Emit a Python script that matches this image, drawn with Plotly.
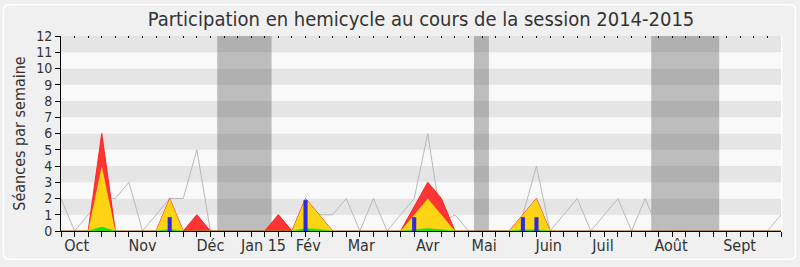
import plotly.graph_objects as go

# ---- data (weekly, session 2014-2015) ----
weeks = list(range(54))
median_seances = [2, 0, 1, 2, 2, 3, 0, 1, 2, 2, 5, 0, 0, 0, 0, 0, 1, 0, 2, 1,
                  1, 2, 0, 2, 0, 1, 2, 6, 0.5, 1, 0, 0, 0, 0, 1, 4, 0, 1, 2, 0,
                  1, 2, 0, 2, 0, 0, 0, 0, 0, 0, 0, 0, 0, 1]
presence = [0, 0, 0, 6, 0, 0, 0, 0, 2, 0, 1, 0, 0, 0, 0, 0, 1, 0, 2, 1,
            0, 0, 0, 0, 0, 0, 1.5, 3, 2, 0, 0, 0, 0, 0, 1, 2, 0, 0, 0, 0,
            0, 0, 0, 0, 0, 0, 0, 0, 0, 0, 0, 0, 0, 0]
participation = [0, 0, 0, 4, 0, 0, 0, 0, 2, 0, 0, 0, 0, 0, 0, 0, 0, 0, 2, 1,
                 0, 0, 0, 0, 0, 0, 1, 2, 1, 0, 0, 0, 0, 0, 1, 2, 0, 0, 0, 0,
                 0, 0, 0, 0, 0, 0, 0, 0, 0, 0, 0, 0, 0, 0]
interventions = [0, 0, 0, 0.25, 0, 0, 0, 0, 0.1, 0, 0, 0, 0, 0, 0, 0, 0, 0, 0.15, 0.1,
                 0, 0, 0, 0, 0, 0, 0.08, 0.15, 0.08, 0, 0, 0, 0, 0, 0.08, 0.08, 0, 0, 0, 0,
                 0, 0, 0, 0, 0, 0, 0, 0, 0, 0, 0, 0, 0, 0]
questions = [0, 0, 0, 0, 0, 0, 0, 0, 0.85, 0, 0, 0, 0, 0, 0, 0, 0, 0, 1.9, 0,
             0, 0, 0, 0, 0, 0, 0.85, 0, 0, 0, 0, 0, 0, 0, 0.85, 0.85, 0, 0, 0, 0,
             0, 0, 0, 0, 0, 0, 0, 0, 0, 0, 0, 0, 0, 0]
vacances_debut = [11.5, 30.4, 43.45]
vacances_fin = [15.5, 31.5, 48.45]
mois_labels = ["Oct", "Nov", "Déc", "Jan 15", "Fév", "Mar", "Avr", "Mai", "Juin", "Juil", "Août", "Sept"]
mois_pos = [1.15, 6.0, 11.0, 14.9, 18.2, 22.1, 27.0, 31.15, 35.9, 39.9, 44.9, 49.95]
y_max = 12

FONT = "DejaVu Sans Condensed, Liberation Sans Narrow, DejaVu Sans, sans-serif"

fig = go.Figure()
fig.add_trace(go.Scatter(x=weeks, y=median_seances, mode="lines",
                         line=dict(color="#b8b8b8", width=1), hoverinfo="skip"))
fig.add_trace(go.Scatter(x=weeks, y=presence, mode="lines", fill="tozeroy",
                         line=dict(color="#ff2020", width=1), fillcolor="#ff3535"))
fig.add_trace(go.Scatter(x=weeks, y=participation, mode="lines", fill="tozeroy",
                         line=dict(color="#ffd000", width=0), fillcolor="#ffd414"))
fig.add_trace(go.Scatter(x=weeks, y=interventions, mode="lines", fill="tozeroy",
                         line=dict(color="#22dd00", width=0.5), fillcolor="#22dd00"))
fig.add_trace(go.Bar(x=weeks, y=questions, width=0.3, marker=dict(color="#2b2bdc", line=dict(width=0)),
                     xaxis="x2", yaxis="y2"))

shapes = []
for k in range(y_max):
    shapes.append(dict(type="rect", xref="paper", yref="y", x0=0, x1=1, y0=k, y1=k + 1,
                       fillcolor="#e5e5e5" if k % 2 == 1 else "#f9f9f9",
                       line=dict(width=0), layer="below"))
for a, b in zip(vacances_debut, vacances_fin):
    shapes.append(dict(type="rect", xref="x", yref="paper", x0=a, x1=b, y0=0, y1=1,
                       fillcolor="rgba(78,78,78,0.35)", line=dict(width=0), layer="below"))

# outer rounded frame (container px -> paper units)
L, R, T, B = 61, 19, 36, 34
W, H = 800, 267
pw, ph = W - L - R, H - T - B
def px(x): return (x - L) / pw
def py(y): return (H - B - y) / ph
x0, x1, y0, y1, r = 3.5, 795.5, 4.5, 261.5, 6
path = (f"M {px(x0+r)} {py(y0)} L {px(x1-r)} {py(y0)} Q {px(x1)} {py(y0)} {px(x1)} {py(y0+r)} "
        f"L {px(x1)} {py(y1-r)} Q {px(x1)} {py(y1)} {px(x1-r)} {py(y1)} "
        f"L {px(x0+r)} {py(y1)} Q {px(x0)} {py(y1)} {px(x0)} {py(y1-r)} "
        f"L {px(x0)} {py(y0+r)} Q {px(x0)} {py(y0)} {px(x0+r)} {py(y0)} Z")
shapes.append(dict(type="path", xref="paper", yref="paper", path=path,
                   line=dict(color="#ffffff", width=1.5), layer="below"))
# thin light edge on the right of the plot area
shapes.append(dict(type="line", xref="paper", yref="paper", x0=1.001, x1=1.001, y0=0, y1=1,
                   line=dict(color="#ffffff", width=1.5), layer="below"))

fig.update_layout(
    width=W, height=H,
    margin=dict(l=L, r=R, t=T, b=B, pad=0),
    paper_bgcolor="#f0f0f0", plot_bgcolor="#f9f9f9",
    showlegend=False, barmode="overlay",
    font=dict(family=FONT, size=16, color="#333333"),
    title=dict(text="Participation en hemicycle au cours de la session 2014-2015",
               x=0.5, xref="paper", xanchor="center", y=1 - 19 / H, yref="container",
               yanchor="middle", font=dict(family=FONT, size=20, color="#333333")),
    xaxis=dict(range=[0, 53], tickvals=mois_pos, ticktext=mois_labels, ticks="", ticklen=0,
               showgrid=False, zeroline=False, showline=True, linecolor="#000000", linewidth=1,
               tickfont=dict(size=16, color="#333333"),
               minor=dict(ticks="outside", ticklen=5, tickcolor="#000000", dtick=1, tick0=0, showgrid=False)),
    yaxis=dict(range=[0, y_max], dtick=1, ticks="outside", ticklen=5, tickcolor="#000000",
               showgrid=False, zeroline=False, showline=True, linecolor="#000000", linewidth=1,
               tickfont=dict(size=14, color="#333333"),
               title=dict(text="Séances par semaine", font=dict(size=16, color="#333333"), standoff=6)),
    xaxis2=dict(range=[0, 53], overlaying="x", side="top", showticklabels=False,
                ticks="inside", ticklen=2, tickwidth=1, tickcolor="#000000", dtick=1, tick0=0,
                showgrid=False, zeroline=False, showline=False),
    yaxis2=dict(range=[0, y_max], overlaying="y", showticklabels=False, ticks="",
                showgrid=False, zeroline=False, showline=False),
    shapes=shapes,
)

fig.write_html("out.html")
